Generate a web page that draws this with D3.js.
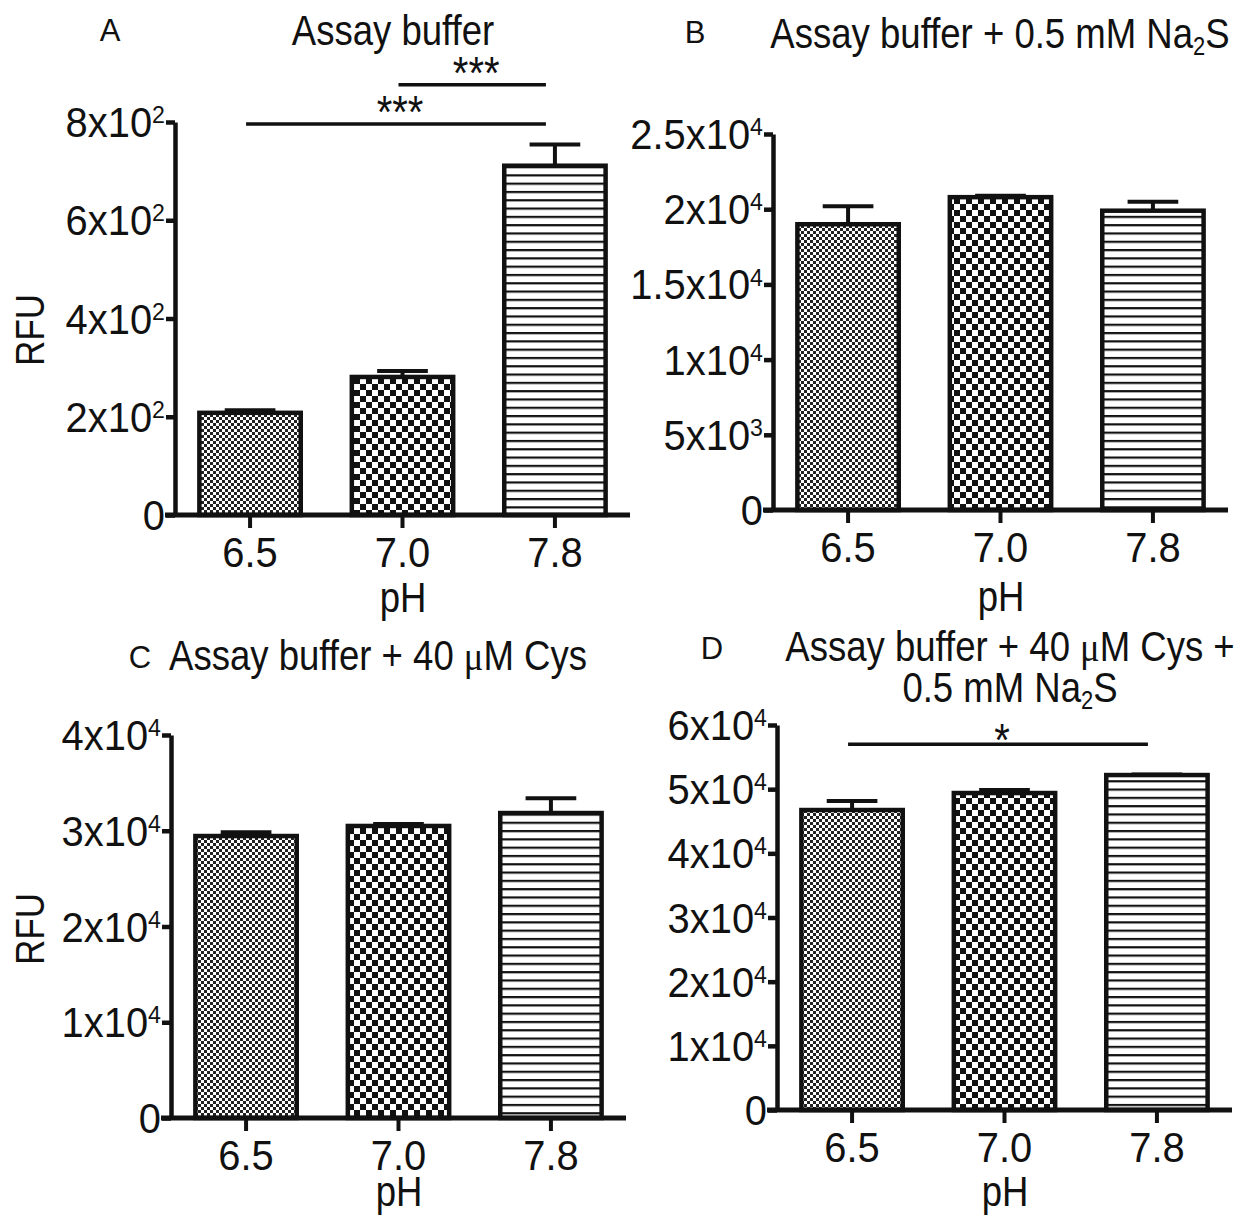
<!DOCTYPE html>
<html>
<head>
<meta charset="utf-8">
<script src="https://cdn.jsdelivr.net/npm/d3@7"></script>
<style>
  body { margin: 0; background: #fff; }
  svg text { font-family: "Liberation Sans", Arial, Helvetica, sans-serif; fill: #111; }
</style>
</head>
<body>
<div id="chart"></div>
<script>
// categories
const phLevels = ['6.5', '7.0', '7.8'];

// A: assay buffer
const bufferMean = [208, 281, 711];
const bufferErr = [5, 12, 43];
// B: + 0.5 mM Na2S
const na2sMean = [19000, 20800, 19900];
const na2sErr = [1200, 100, 600];
// C: + 40 uM Cys
const cysMean = [29450, 30500, 31850];
const cysErr = [400, 200, 1550];
// D: + 40 uM Cys + 0.5 mM Na2S
const cysNa2sMean = [46750, 49400, 52200];
const cysNa2sErr = [1400, 470, 100];

// y ticks and their labels ([mantissa part, superscript])
const bufferTicks = [0, 200, 400, 600, 800];
const bufferTickLabels = [['0'], ['2x10', '2'], ['4x10', '2'], ['6x10', '2'], ['8x10', '2']];
const na2sTicks = [0, 5000, 10000, 15000, 20000, 25000];
const na2sTickLabels = [['0'], ['5x10', '3'], ['1x10', '4'], ['1.5x10', '4'], ['2x10', '4'], ['2.5x10', '4']];
const cysTicks = [0, 10000, 20000, 30000, 40000];
const cysTickLabels = [['0'], ['1x10', '4'], ['2x10', '4'], ['3x10', '4'], ['4x10', '4']];
const cysNa2sTicks = [0, 10000, 20000, 30000, 40000, 50000, 60000];
const cysNa2sTickLabels = [['0'], ['1x10', '4'], ['2x10', '4'], ['3x10', '4'], ['4x10', '4'], ['5x10', '4'], ['6x10', '4']];

// significance brackets (level in data units)
const bufferSig = [
  { from: '6.5', to: '7.8', level: 796, label: '***' },
  { from: '7.0', to: '7.8', level: 876, label: '***' }
];
const cysNa2sSig = [
  { from: '6.5', to: '7.8', level: 57000, label: '*' }
];

const SX = 0.87;   // horizontal squeeze of the title lettering
const FS = 42;

const svg = d3.select('#chart').append('svg')
  .attr('width', 1247)
  .attr('height', 1216);

// fill patterns
const defs = svg.append('defs');
const pf = defs.append('pattern').attr('id', 'pFine')
  .attr('patternUnits', 'userSpaceOnUse').attr('width', 6).attr('height', 6);
pf.append('rect').attr('width', 6).attr('height', 6).attr('fill', '#fff');
pf.append('rect').attr('width', 3).attr('height', 3).attr('fill', '#222');
pf.append('rect').attr('x', 3).attr('y', 3).attr('width', 3).attr('height', 3).attr('fill', '#222');

const pc = defs.append('pattern').attr('id', 'pCoarse')
  .attr('patternUnits', 'userSpaceOnUse').attr('width', 12).attr('height', 12);
pc.append('rect').attr('width', 12).attr('height', 12).attr('fill', '#fff');
pc.append('rect').attr('width', 6).attr('height', 6).attr('fill', '#111');
pc.append('rect').attr('x', 6).attr('y', 6).attr('width', 6).attr('height', 6).attr('fill', '#111');

const pl = defs.append('pattern').attr('id', 'pLines')
  .attr('patternUnits', 'userSpaceOnUse').attr('width', 10).attr('height', 8.3);
pl.append('rect').attr('width', 10).attr('height', 8.3).attr('fill', '#fff');
pl.append('rect').attr('width', 10).attr('height', 2.2).attr('fill', '#111');

const fills = ['url(#pFine)', 'url(#pCoarse)', 'url(#pLines)'];

// text with sub / superscripts
function richText(g, x, y, segs, size, anchor, sx, rotate) {
  const t = g.append('text')
    .attr('transform', `translate(${x},${y})` + (rotate ? ` rotate(${rotate})` : '') + ` scale(${sx},1)`)
    .attr('font-size', size)
    .attr('text-anchor', anchor || 'middle');
  let shift = 0;
  segs.forEach(s => {
    if (typeof s === 'string') s = { t: s };
    const ts = t.append('tspan').text(s.t);
    let target = 0;
    if (s.sup) { ts.attr('font-size', size * 0.58); target = -size * 0.33; }
    if (s.sub) { ts.attr('font-size', size * 0.6); target = size * 0.17; }
    if (s.serif) ts.style('font-family', '"Liberation Serif", "Times New Roman", serif');
    if (target !== shift) { ts.attr('dy', target - shift); shift = target; }
  });
  return t;
}

const panels = [
  { letter: 'A', letterAt: [110, 41], title: [[{ t: 'Assay buffer' }]], titleX: 393, titleY: [45],
    x0: 175, base: 515, top: 122, max: 800, mean: bufferMean, err: bufferErr,
    ticks: bufferTicks, tickLabels: bufferTickLabels, sig: bufferSig, starGap: 4,
    phGap: 97, rfuY: 330 },
  { letter: 'B', letterAt: [695, 43], title: [['Assay buffer + 0.5 mM Na', { t: '2', sub: true }, 'S']], titleX: 1000, titleY: [48],
    x0: 773, base: 510, top: 134, max: 25000, mean: na2sMean, err: na2sErr,
    ticks: na2sTicks, tickLabels: na2sTickLabels, sig: [], phGap: 101 },
  { letter: 'C', letterAt: [140, 668], title: [['Assay buffer + 40 ', { t: 'μ', serif: true }, 'M Cys']], titleX: 378, titleY: [670],
    x0: 171, base: 1118, top: 735, max: 40000, mean: cysMean, err: cysErr,
    ticks: cysTicks, tickLabels: cysTickLabels, sig: [], phGap: 88, rfuY: 929 },
  { letter: 'D', letterAt: [712, 659],
    title: [['Assay buffer + 40 ', { t: 'μ', serif: true }, 'M Cys +'], ['0.5 mM Na', { t: '2', sub: true }, 'S']],
    titleX: 1010, titleY: [661, 702],
    x0: 777, base: 1110, top: 725, max: 60000, mean: cysNa2sMean, err: cysNa2sErr,
    ticks: cysNa2sTicks, tickLabels: cysNa2sTickLabels, sig: cysNa2sSig, starGap: 12, phGap: 96 }
];

panels.forEach(p => {
  const g = svg.append('g');

  const x = d3.scaleBand()
    .domain(phLevels)
    .range([p.x0, p.x0 + 455])
    .paddingInner(0.335)
    .paddingOuter(0.16);
  const y = d3.scaleLinear()
    .domain([0, p.max])
    .range([p.base, p.top]);
  const bw = x.bandwidth();
  const cx = d => x(d) + bw / 2;

  const rows = phLevels.map((c, i) => ({ cat: c, mean: p.mean[i], err: p.err[i], fill: fills[i] }));

  // error bars (upper only)
  const eb = g.selectAll('.eb').data(rows).enter().append('g')
    .attr('stroke', '#111').attr('stroke-width', 4);
  eb.append('line')
    .attr('x1', d => cx(d.cat)).attr('x2', d => cx(d.cat))
    .attr('y1', d => y(d.mean)).attr('y2', d => y(d.mean + d.err));
  eb.append('line')
    .attr('x1', d => cx(d.cat) - bw / 4).attr('x2', d => cx(d.cat) + bw / 4)
    .attr('y1', d => y(d.mean + d.err)).attr('y2', d => y(d.mean + d.err));

  // bars
  g.selectAll('.bar').data(rows).enter().append('rect')
    .attr('x', d => x(d.cat))
    .attr('width', bw)
    .attr('y', d => y(d.mean))
    .attr('height', d => y(0) - y(d.mean))
    .attr('fill', d => d.fill)
    .attr('stroke', '#111')
    .attr('stroke-width', 4.5);

  // y axis
  const ya = g.append('g')
    .attr('transform', `translate(${p.x0},0)`)
    .call(d3.axisLeft(y).tickValues(p.ticks).tickSize(9).tickSizeOuter(0).tickFormat(''));
  ya.select('.domain').attr('stroke', '#111').attr('stroke-width', 4.5);
  ya.selectAll('.tick line').attr('stroke', '#111').attr('stroke-width', 4.5);

  p.ticks.forEach((v, i) => {
    const lab = p.tickLabels[i];
    const segs = [lab[0]];
    if (lab[1]) segs.push({ t: lab[1], sup: true });
    richText(g, p.x0 - 10, y(v) + 15, segs, FS, 'end', 0.95);
  });

  // x axis: baseline + ticks
  g.append('line')
    .attr('x1', p.x0 - 10).attr('x2', p.x0 + 455)
    .attr('y1', p.base).attr('y2', p.base)
    .attr('stroke', '#111').attr('stroke-width', 5);
  const xa = g.append('g')
    .attr('transform', `translate(0,${p.base})`)
    .call(d3.axisBottom(x).tickSize(13).tickSizeOuter(0).tickFormat(''));
  xa.select('.domain').remove();
  xa.selectAll('.tick line').attr('stroke', '#111').attr('stroke-width', 4);

  phLevels.forEach(c => richText(g, cx(c), p.base + 52, [c], FS, 'middle', 0.95));
  richText(g, p.x0 + 228, p.base + p.phGap, ['pH'], FS, 'middle', SX);

  if (p.rfuY) richText(g, 44, p.rfuY, ['RFU'], 40, 'middle', SX, -90);

  // titles
  richText(g, p.letterAt[0], p.letterAt[1], [p.letter], 31, 'middle', 1);
  p.title.forEach((line, i) => richText(g, p.titleX, p.titleY[i], line, FS, 'middle', SX));

  // significance
  p.sig.forEach(s => {
    const ly = y(s.level);
    const xa1 = cx(s.from) - 4, xa2 = cx(s.to) - 9;
    g.append('line')
      .attr('x1', xa1).attr('x2', xa2).attr('y1', ly).attr('y2', ly)
      .attr('stroke', '#111').attr('stroke-width', 3.5);
    richText(g, (xa1 + xa2) / 2 + 4, ly + p.starGap, [s.label], 46, 'middle', SX);
  });
});
</script>
</body>
</html>
